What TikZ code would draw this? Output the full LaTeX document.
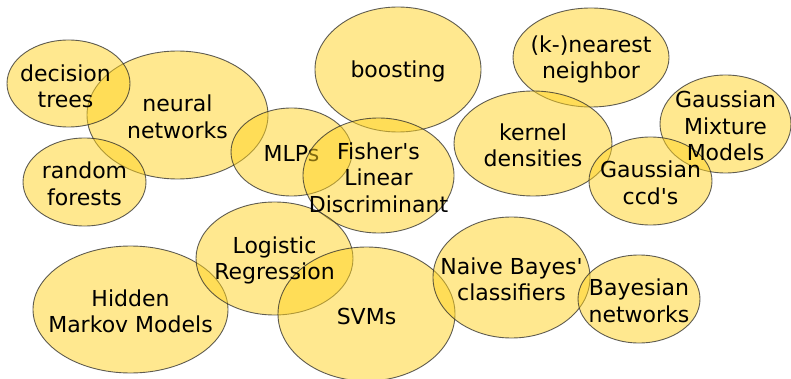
\documentclass[tikz,border=0pt]{standalone}
\usepackage{fontspec}
\setmainfont{DejaVu Sans}
\usetikzlibrary{shapes.geometric}
\definecolor{blobfill}{HTML}{FFD320}
\definecolor{blobline}{HTML}{2A2A2A}
\newcommand{\apos}{\textquotesingle}
\tikzset{
  blob/.style 2 args={ellipse, inner sep=0pt, outer sep=0pt,
    minimum width=#1pt, minimum height=#2pt,
    fill=blobfill, fill opacity=0.5, text opacity=1,
    draw=blobline, draw opacity=0.75, line width=0.9pt},
  lbl/.style={align=center, text=black, inner sep=0pt, yshift=-2pt,
    font=\fontsize{22}{26.5}\selectfont}
}
\begin{document}
\begin{tikzpicture}[x=1pt,y=-1pt]
\useasboundingbox (0,0) rectangle (791,379);
\clip (0,0) rectangle (791,379);
\fill[white] (0,0) rectangle (791,379);

% ellipses, left to right and top to bottom
\node[blob={181}{128}] (nn)  at (177.5,115) {};
\node[blob={123}{87}]  (dt)  at (68.5,83.5) {};
\node[blob={123}{88}]  (rf)  at (84.5,182) {};
\node[blob={166}{125}] (bo)  at (398,69.5) {};
\node[blob={121}{88}]  (mlp) at (291.5,152) {};
\node[lbl] (mlpt) at (mlp.center) {MLPs};
\node[blob={151}{115}] (fld) at (378.5,175.5) {};
\node[blob={156}{99}]  (knn) at (591,57.5) {};
\node[blob={158}{105}] (kd)  at (533,143.5) {};
\node[blob={131}{98}]  (gmm) at (725.5,124) {};
\node[blob={123}{88}]  (ccd) at (650.5,181) {};
\node[blob={195}{127}] (hmm) at (130.5,309.5) {};
\node[blob={157}{113}] (lr)  at (274.5,258.5) {};
\node[blob={177}{134}] (svm) at (366.5,314) {};
\node[blob={157}{121}] (nb)  at (511.5,277.5) {};
\node[blob={122}{88}]  (bn)  at (639,299) {};

% labels
\node[lbl] at ([xshift=-3pt,yshift=-1pt]dt.center) {decision\\trees};
\node[lbl] at (nn.center) {neural\\networks};
\node[lbl] at (rf.center) {random\\forests};
\node[lbl] at (bo.center) {boosting};
\node[lbl] at (fld.center) {Fisher\apos s\\Linear\\Discriminant};
\node[lbl] at (knn.center) {(k-)nearest\\neighbor};
\node[lbl] at (kd.center) {kernel\\densities};
\node[lbl] at (gmm.center) {Gaussian\\Mixture\\Models};
\node[lbl] at (ccd.center) {Gaussian\\ccd\apos s};
\node[lbl] at (hmm.center) {Hidden\\Markov Models};
\node[lbl] at (lr.center) {Logistic\\Regression};
\node[lbl] at (svm.center) {SVMs};
\node[lbl] at (nb.center) {Naive Bayes\apos\\classifiers};
\node[lbl] at (bn.center) {Bayesian\\networks};
\end{tikzpicture}
\end{document}
